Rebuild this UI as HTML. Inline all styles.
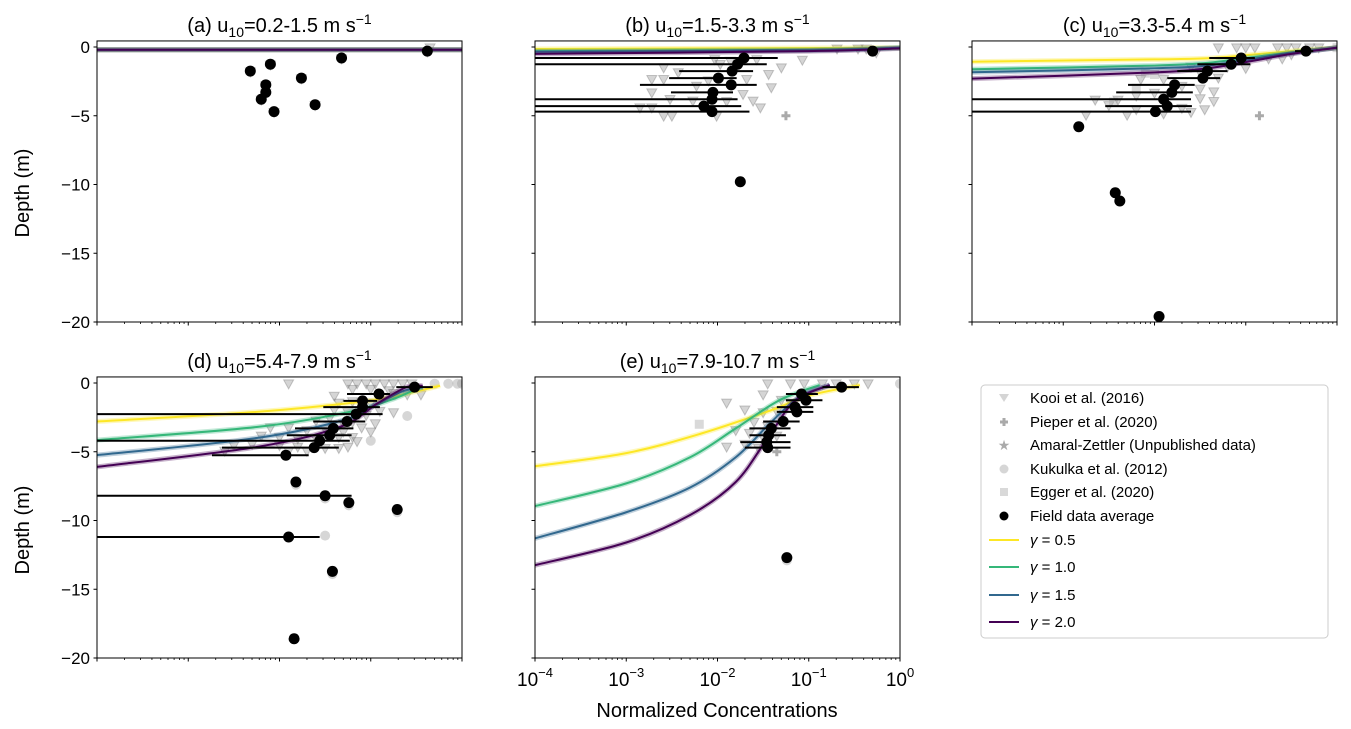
<!DOCTYPE html>
<html><head><meta charset="utf-8"><style>
html,body{margin:0;padding:0;background:#fff}
svg{display:block;font-family:"Liberation Sans","DejaVu Sans",sans-serif}
</style></head><body>
<svg id="chart" width="1351" height="729" viewBox="0 0 1351 729" xmlns="http://www.w3.org/2000/svg"></svg>
<script>
// ---------- DATA (log10 normalized concentration, depth in m) ----------
const panelTitles = ["(a) u","(b) u","(c) u","(d) u","(e) u"];
const windRanges = ["=0.2-1.5 m s","=1.5-3.3 m s","=3.3-5.4 m s","=5.4-7.9 m s","=7.9-10.7 m s"];
const gammaLabels = ["0.5","1.0","1.5","2.0"];
const gammaColors = ["#fde725","#35b779","#31688e","#440154"];
const yTicks = [0,-5,-10,-15,-20];
const xTickExp = [-4,-3,-2,-1,0];

const fieldA = [[-0.38,-0.3],[-1.32,-0.8],[-2.32,-1.75],[-2.10,-1.25],[-1.76,-2.26],[-2.15,-2.75],[-2.15,-3.3],[-2.2,-3.8],[-2.06,-4.7],[-1.61,-4.2]];
const fieldB = [[-0.30,-0.3],[-1.71,-0.8],[-1.78,-1.25],[-1.84,-1.75],[-1.99,-2.26],[-1.85,-2.75],[-2.05,-3.3],[-2.06,-3.8],[-2.15,-4.3],[-2.06,-4.7],[-1.75,-9.8]];
const fieldC = [[-0.34,-0.3],[-1.05,-0.8],[-1.16,-1.25],[-1.42,-1.75],[-1.47,-2.26],[-1.78,-2.75],[-1.81,-3.3],[-1.90,-3.8],[-1.86,-4.3],[-1.99,-4.7],[-2.83,-5.8],[-2.43,-10.6],[-2.38,-11.2],[-1.95,-19.6]];
const fieldD = [[-0.52,-0.3],[-0.91,-0.8],[-1.09,-1.3],[-1.09,-1.75],[-1.16,-2.26],[-1.26,-2.8],[-1.41,-3.3],[-1.45,-3.8],[-1.56,-4.2],[-1.62,-4.7],[-1.93,-5.25],[-1.82,-7.2],[-1.50,-8.2],[-1.24,-8.7],[-0.71,-9.2],[-1.90,-11.2],[-1.42,-13.7],[-1.84,-18.6]];
const fieldE = [[-0.64,-0.3],[-1.08,-0.8],[-1.03,-1.25],[-1.15,-1.75],[-1.13,-2.1],[-1.28,-2.8],[-1.41,-3.3],[-1.44,-3.8],[-1.46,-4.3],[-1.45,-4.7],[-1.24,-12.7]];

// error bars: [lo, hi, depth]
const errA = [];
const errB = [[-4,-1.34,-0.8],[-4,-1.46,-1.25],[-2.42,-1.61,-1.75],[-2.53,-1.79,-2.26],[-2.85,-1.57,-2.75],[-2.51,-1.83,-3.3],[-4,-1.78,-3.8],[-4,-1.74,-4.3],[-4,-1.65,-4.7]];
const errC = [[-0.46,-0.26,-0.3],[-1.4,-0.9,-0.8],[-1.53,-0.95,-1.25],[-1.75,-1.2,-1.75],[-1.86,-1.28,-2.26],[-2.29,-1.56,-2.75],[-2.42,-1.58,-3.3],[-4,-1.6,-3.8],[-2.54,-1.59,-4.3],[-4,-1.6,-4.7]];
const errD = [[-0.72,-0.32,-0.3],[-1.26,-0.79,-0.8],[-1.30,-0.93,-1.3],[-1.52,-0.90,-1.75],[-4,-0.87,-2.26],[-1.63,-1.06,-2.8],[-1.83,-1.19,-3.3],[-1.92,-1.21,-3.8],[-4,-1.23,-4.2],[-2.63,-1.35,-4.7],[-2.74,-1.68,-5.25],[-4,-1.21,-8.2],[-4,-1.56,-11.2]];
const errE = [[-0.85,-0.45,-0.3],[-1.25,-0.9,-0.8],[-1.25,-0.85,-1.25],[-1.35,-0.95,-1.75],[-1.35,-0.95,-2.1],[-1.5,-1.1,-2.8],[-1.65,-1.2,-3.3],[-1.65,-1.25,-3.8],[-1.75,-1.2,-4.3],[-1.7,-1.2,-4.7]];

// model curves per panel, per gamma: [logc, depth]
const curvesA = [[[-4,-0.2],[0,-0.2]],[[-4,-0.2],[0,-0.2]],[[-4,-0.2],[0,-0.2]],[[-4,-0.2],[0,-0.2]]];
const curvesB = [[[-4,-0.15],[0,-0.05]],[[-4,-0.3],[-1,-0.2],[0,-0.05]],[[-4,-0.35],[-1,-0.25],[0,-0.05]],[[-4,-0.5],[-1,-0.3],[0,-0.1]]];
const curvesC = [[[-4,-1.07],[-2,-0.9],[-1.42,-0.82],[-1,-0.6],[-0.5,-0.3],[0,-0.05]],
                 [[-4,-1.62],[-2,-1.35],[-1.42,-1.15],[-1,-0.8],[-0.5,-0.4],[0,-0.05]],
                 [[-4,-1.84],[-2,-1.55],[-1.42,-1.35],[-1,-0.95],[-0.5,-0.45],[0,-0.05]],
                 [[-4,-2.3],[-2,-1.85],[-1.42,-1.55],[-1,-1.1],[-0.5,-0.5],[0,-0.05]]];
const curvesD = [[[-4,-2.8],[-2.25,-2.1],[-1.15,-1.4],[-0.7,-0.9],[-0.24,-0.2]],
                 [[-4,-4.15],[-2.25,-3.2],[-1.23,-2.1],[-0.79,-1.25],[-0.55,-0.6],[-0.43,-0.3]],
                 [[-4,-5.25],[-2.25,-4.0],[-1.30,-2.7],[-0.93,-1.5],[-0.65,-0.6],[-0.43,-0.3]],
                 [[-4,-6.1],[-2.25,-4.65],[-1.34,-3.2],[-0.93,-1.5],[-0.61,-0.3],[-0.43,-0.2]]];
const curvesE = [[[-4,-6.05],[-3,-5.1],[-2.19,-3.7],[-1.42,-2.0],[-0.99,-0.9],[-0.44,-0.15]],
                 [[-4,-8.95],[-3,-7.3],[-2.3,-5.4],[-1.8,-3.3],[-1.32,-1.25],[-0.88,-0.15]],
                 [[-4,-11.3],[-3,-9.4],[-2.3,-7.6],[-1.8,-5.4],[-1.42,-2.9],[-1.1,-1.0],[-0.77,-0.15]],
                 [[-4,-13.25],[-3,-11.6],[-2.3,-9.6],[-1.8,-7.2],[-1.45,-4.0],[-1.15,-1.3],[-0.77,-0.15]]];

// Kooi triangles
const triA = [[-0.35,-0.1],[-0.38,-0.4],[-1.32,-0.9],[-2.32,-1.85],[-2.10,-1.35],[-1.76,-2.35],[-2.15,-2.85],[-2.15,-3.4],[-2.2,-3.9],[-2.06,-4.8],[-1.61,-4.3]];
const triB = [[-0.69,-0.18],[-0.46,-0.18],[-0.37,-0.18],[-0.26,-0.46],[-2.03,-0.95],[-1.97,-1.31],[-1.86,-1.07],[-1.57,-0.95],[-1.30,-1.55],[-1.07,-1.0],[-2.59,-1.55],[-2.43,-1.91],[-2.72,-2.4],[-2.59,-2.4],[-2.23,-2.89],[-1.68,-2.4],[-1.44,-2.04],[-1.41,-3.0],[-2.72,-3.37],[-2.52,-3.85],[-2.27,-3.97],[-1.72,-3.49],[-1.61,-3.97],[-1.53,-4.46],[-2.85,-4.46],[-2.72,-4.46],[-2.59,-5.07],[-2.50,-5.07],[-2.01,-5.07],[-1.9,-4.0],[-2.1,-2.5]];
const triC = [[-1.3,-0.1],[-1.1,-0.1],[-1.0,-0.1],[-0.9,-0.1],[-0.65,-0.1],[-0.55,-0.1],[-0.45,-0.1],[-0.3,-0.1],[-0.2,-0.1],[-0.75,-0.9],[-0.6,-0.9],[-0.5,-0.6],[-1.6,-1.5],[-1.5,-1.9],[-1.3,-2.3],[-1.2,-1.5],[-1.0,-1.6],[-2.15,-2.4],[-1.9,-2.4],[-1.7,-2.9],[-1.5,-3.1],[-1.35,-3.3],[-2.0,-3.4],[-2.2,-3.6],[-2.4,-3.9],[-2.65,-3.9],[-1.5,-3.8],[-1.35,-4.0],[-2.5,-4.3],[-2.2,-4.6],[-1.9,-4.9],[-1.6,-4.8],[-2.75,-5.0],[-1.45,-4.6],[-1.7,-4.5],[-2.3,-5.0]];
const triD = [[-1.9,-0.1],[-1.25,-0.1],[-1.15,-0.1],[-1.05,-0.1],[-0.95,-0.1],[-0.85,-0.1],[-0.75,-0.1],[-0.65,-0.1],[-0.55,-0.1],[-1.2,-0.5],[-1.0,-0.5],[-0.8,-0.6],[-0.6,-0.9],[-0.45,-0.9],[-1.35,-1.5],[-1.2,-1.4],[-1.0,-1.5],[-1.4,-2.0],[-1.25,-2.2],[-1.05,-2.4],[-0.9,-2.1],[-0.75,-2.2],[-1.6,-2.8],[-1.45,-2.6],[-1.2,-2.9],[-0.95,-3.0],[-2.1,-3.3],[-1.9,-3.3],[-1.7,-3.5],[-1.5,-3.4],[-1.3,-3.6],[-1.1,-3.3],[-2.2,-3.9],[-2.0,-4.0],[-1.8,-4.1],[-1.6,-4.1],[-1.35,-4.0],[-1.2,-4.0],[-2.5,-4.6],[-2.3,-4.5],[-2.0,-4.6],[-1.8,-4.7],[-1.5,-4.8],[-1.35,-4.8],[-1.25,-4.7],[-2.6,-5.0],[-1.7,-5.0],[-1.9,-5.0],[-0.75,-0.8],[-1.4,-1.0],[-1.3,-3.0],[-1.55,-4.4],[-1.15,-4.3],[-1.0,-3.6]];
const triE = [[-1.45,-0.1],[-1.2,-0.1],[-1.05,-0.1],[-0.85,-0.1],[-0.7,-0.1],[-0.5,-0.1],[-0.35,-0.1],[-1.9,-1.5],[-1.5,-0.9],[-1.3,-1.3],[-1.2,-1.5],[-1.7,-2.0],[-1.5,-2.2],[-1.35,-2.1],[-1.6,-2.9],[-1.45,-3.2],[-1.8,-3.5],[-1.65,-3.7],[-1.5,-4.0],[-1.7,-4.5],[-1.55,-4.8],[-1.9,-4.7],[-1.35,-3.9]];
const sqC = [[-2.1,-1.9],[-2.0,-2.0],[-2.2,-3.0],[-2.45,-4.0],[-0.0,-0.05]];
const sqE = [[-2.2,-3.0]];
const circD = [[-0.15,-0.05],[-0.05,-0.05],[0,-0.05],[-0.6,-2.4],[-0.75,-0.9],[-1.0,-4.2],[-1.82,-7.4],[-1.24,-8.9],[-0.71,-9.4],[-1.5,-8.4],[-1.5,-11.1],[-1.42,-13.9],[-0.3,-0.05]];
const circE = [[0,-0.05],[-1.24,-12.9]];
const plusB = [[-1.25,-5.0]];
const plusC = [[-0.85,-5.0]];
const plusE = [[-1.35,-5.0]];

// ---------- RENDER ----------
const NS = "http://www.w3.org/2000/svg";
const svg = document.getElementById("chart");
function mk(tag, attrs, parent){const e=document.createElementNS(NS,tag);for(const k in attrs)e.setAttribute(k,attrs[k]);(parent||svg).appendChild(e);return e;}
function smoothPath(P){
  if(P.length<3) return "M"+P.map(p=>p.join(",")).join("L");
  let d="M"+P[0][0]+","+P[0][1];
  for(let i=0;i<P.length-1;i++){
    const p0=P[Math.max(0,i-1)],p1=P[i],p2=P[i+1],p3=P[Math.min(P.length-1,i+2)];
    const c1=[p1[0]+(p2[0]-p0[0])/6,p1[1]+(p2[1]-p0[1])/6];
    const c2=[p2[0]-(p3[0]-p1[0])/6,p2[1]-(p3[1]-p1[1])/6];
    d+=`C${c1[0]},${c1[1]} ${c2[0]},${c2[1]} ${p2[0]},${p2[1]}`;
  }
  return d;
}

const panels = [
 {L:97,  y0:47,  field:fieldA, err:errA, curves:curvesA, tri:triA, sq:[], circ:[], plus:[], yl:true, xl:false},
 {L:535, y0:47,  field:fieldB, err:errB, curves:curvesB, tri:triB, sq:[], circ:[], plus:plusB, yl:false, xl:false},
 {L:972, y0:47,  field:fieldC, err:errC, curves:curvesC, tri:triC, sq:sqC, circ:[], plus:plusC, yl:false, xl:false},
 {L:97,  y0:383, field:fieldD, err:errD, curves:curvesD, tri:triD, sq:[], circ:circD, plus:[], yl:true, xl:false},
 {L:535, y0:383, field:fieldE, err:errE, curves:curvesE, tri:triE, sq:sqE, circ:circE, plus:plusE, yl:false, xl:true}
];
const W=365, DEC=W/4, PXM=13.75;

panels.forEach((p,i)=>{
  const g = mk("g",{}); 
  
  
  const top=p.y0-0.44*PXM, bot=p.y0+20*PXM;
  const xs = v=>p.L+(Math.max(-4,Math.min(0,v))+4)*DEC;
  const ys = d=>p.y0-d*PXM;
  const clip = mk("clipPath",{id:"clip"+i},g);
  mk("rect",{x:p.L,y:top,width:W,height:bot-top},clip);
  const pg = mk("g",{"clip-path":"url(#clip"+i+")"},g);
  p.tri.forEach(t=>{const x=xs(t[0]),y=ys(t[1]);
    const e=mk("polygon",{points:`${x-5},${y-4.5} ${x+5},${y-4.5} ${x},${y+4.5}`,fill:"#888","fill-opacity":0.35,stroke:"#666","stroke-opacity":0.35},pg);
    });
  p.plus.forEach(t=>{const x=xs(t[0]),y=ys(t[1]);
    const e=mk("path",{d:`M${x-4.5},${y}H${x+4.5}M${x},${y-4.5}V${y+4.5}`,stroke:"#aaa","stroke-width":3},pg);
    });
  p.sq.forEach(t=>{const x=xs(t[0]),y=ys(t[1]);
    const e=mk("rect",{x:x-4.5,y:y-4.5,width:9,height:9,fill:"#aaa","fill-opacity":0.45},pg);
    });
  p.circ.forEach(t=>{const x=xs(t[0]),y=ys(t[1]);
    const e=mk("circle",{cx:x,cy:y,r:5,fill:"#999","fill-opacity":0.4},pg);
    });
  p.curves.forEach((c,k)=>{
    const d=smoothPath(c.map(q=>[xs(q[0]),ys(q[1])]));
    mk("path",{d:d,fill:"none",stroke:gammaColors[k],"stroke-opacity":0.3,"stroke-width":5},pg);
    const e=mk("path",{d:d,fill:"none",stroke:gammaColors[k],"stroke-width":2},pg);
    
    
  });
  p.err.forEach(b=>{const e=mk("line",{x1:xs(b[0]),x2:xs(b[1]),y1:ys(b[2]),y2:ys(b[2]),stroke:"#000","stroke-width":2},pg);
    });
  p.field.forEach(f=>{const e=mk("circle",{cx:xs(f[0]),cy:ys(f[1]),r:5.5,fill:"#000"},pg);
    });
  mk("rect",{x:p.L,y:top,width:W,height:bot-top,fill:"none",stroke:"#000","stroke-width":1},g);
  yTicks.forEach(t=>{const y=ys(t);
    mk("line",{x1:p.L-3.5,x2:p.L,y1:y,y2:y,stroke:"#000"},g);
    if(p.yl){const tx=mk("text",{x:p.L-7,y:y+6,"text-anchor":"end","font-size":17},g);tx.textContent=t===0?"0":"\u2212"+(-t);
      }
  });
  for(let d=-4; d<=0; d++){
    const x=p.L+(d+4)*DEC;
    mk("line",{x1:x,x2:x,y1:bot,y2:bot+3.5,stroke:"#000"},g);
    if(d<0) for(let m=2;m<=9;m++){const xm=p.L+(d+4+Math.log10(m))*DEC; mk("line",{x1:xm,x2:xm,y1:bot,y2:bot+2,stroke:"#000","stroke-width":0.8},g);}
  }
  if(p.xl) xTickExp.forEach(d=>{
    const x=p.L+(d+4)*DEC;
    const tx=mk("text",{x:x,y:bot+28,"text-anchor":"middle","font-size":19},g);
    
    const a=mk("tspan",{},tx);a.textContent="10";
    const b=mk("tspan",{dy:-9,"font-size":13},tx);b.textContent=d<0?"\u2212"+(-d):"0";
  });
  const tt=mk("text",{x:p.L+W/2,y:top-9,"text-anchor":"middle","font-size":20},g);
  
  const t1=mk("tspan",{},tt);t1.textContent=panelTitles[i];
  const t2=mk("tspan",{dy:5,"font-size":14},tt);t2.textContent="10";
  const t3=mk("tspan",{dy:-5},tt);t3.textContent=windRanges[i];
  const t4=mk("tspan",{dy:-8,"font-size":14},tt);t4.textContent="\u22121";
});

[193,530].forEach(cy=>{
  const t=mk("text",{x:0,y:0,transform:`translate(29,${cy}) rotate(-90)`,"text-anchor":"middle","font-size":20});
  t.textContent="Depth (m)";
  
});
const xt=mk("text",{x:717,y:717,"text-anchor":"middle","font-size":20});xt.textContent="Normalized Concentrations";


const lg=mk("g",{});

mk("rect",{x:981,y:385,width:347,height:253,rx:4,fill:"#fff",stroke:"#ccc"},lg);
const legendLabels=["Kooi et al. (2016)","Pieper et al. (2020)","Amaral-Zettler (Unpublished data)","Kukulka et al. (2012)","Egger et al. (2020)","Field data average"];
const ly=[398,422,445,469,492,516];
legendLabels.forEach((s,k)=>{
  const x=1004,y=ly[k];
  if(k===0) mk("polygon",{points:`${x-5},${y-4} ${x+5},${y-4} ${x},${y+4}`,fill:"#888","fill-opacity":0.35},lg);
  if(k===1) mk("path",{d:`M${x-4},${y}H${x+4}M${x},${y-4}V${y+4}`,stroke:"#aaa","stroke-width":3},lg);
  if(k===2) mk("text",{x:x,y:y+5,"text-anchor":"middle","font-size":14,fill:"#aaa"},lg).textContent="\u2605";
  if(k===3) mk("circle",{cx:x,cy:y,r:4.5,fill:"#999","fill-opacity":0.4},lg);
  if(k===4) mk("rect",{x:x-4,y:y-4,width:8,height:8,fill:"#aaa","fill-opacity":0.45},lg);
  if(k===5) mk("circle",{cx:x,cy:y,r:4.5,fill:"#000"},lg);
  const t=mk("text",{x:1030,y:y+5,"font-size":15},lg);t.textContent=s;
  
});
const gy=[540,567,595,622];
gammaLabels.forEach((g,k)=>{
  mk("line",{x1:989,x2:1019,y1:gy[k],y2:gy[k],stroke:gammaColors[k],"stroke-width":2},lg);
  const t=mk("text",{x:1030,y:gy[k]+5,"font-size":15},lg);
  
  const a=mk("tspan",{"font-style":"italic"},t);a.textContent="\u03b3";
  const b=mk("tspan",{},t);b.textContent=" = "+g;
});
</script>
</body></html>
